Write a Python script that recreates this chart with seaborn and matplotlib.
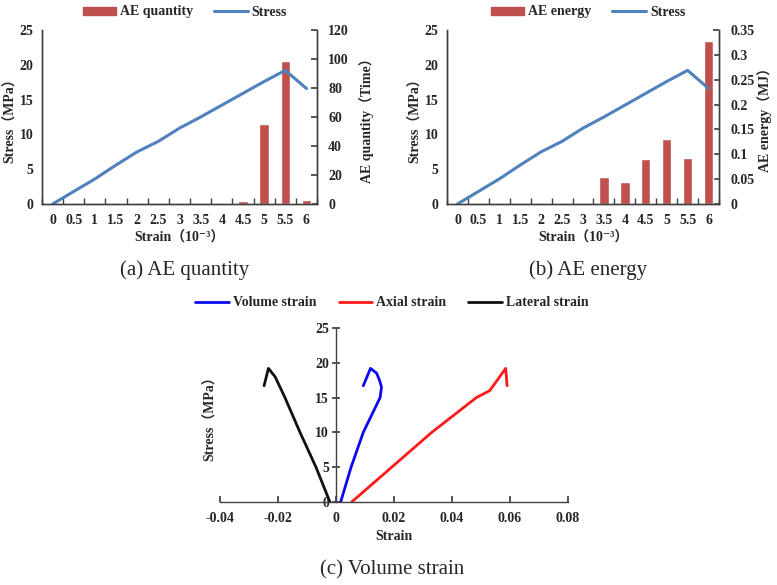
import matplotlib
matplotlib.use("Agg")
import matplotlib.pyplot as plt
from matplotlib.patches import Patch
from matplotlib.lines import Line2D
import numpy as np
import pandas as pd
import seaborn as sns

# --- data ---
strain_labels = ["0", "0.5", "1", "1.5", "2", "2.5", "3", "3.5", "4", "4.5", "5", "5.5", "6"]
stress = [0, 1.8, 3.6, 5.6, 7.5, 9.0, 10.9, 12.5, 14.2, 15.9, 17.6, 19.2, 16.6]
ae_quantity = [0, 0, 0, 0, 0, 0, 0, 0.5, 0.5, 2, 55, 98.5, 2.8]
ae_energy = [0, 0, 0, 0, 0, 0, 0, 0.055, 0.044, 0.090, 0.130, 0.093, 0.328]

lat_strain = [-0.0021, -0.0069, -0.0124, -0.0176, -0.0210, -0.0233, -0.0248]
lat_stress = [0, 5, 10, 15, 18, 19.2, 16.7]
vol_strain = [0.0016, 0.0052, 0.0094, 0.0152, 0.0157, 0.0150, 0.0140, 0.0119, 0.0094]
vol_stress = [0, 5, 10, 15, 16.5, 17.5, 18.5, 19.2, 16.7]
ax_strain = [0.0054, 0.0192, 0.0330, 0.0484, 0.0530, 0.0556, 0.0585, 0.0590]
ax_stress = [0, 5, 10, 15, 16, 17.5, 19.2, 16.7]

sns.set_theme(style="white")
SERIF = ["Liberation Serif", "DejaVu Serif", "Noto Sans CJK SC"]
plt.rcParams["font.family"] = SERIF
plt.rcParams["font.weight"] = "bold"
plt.rcParams["axes.labelweight"] = "bold"

BAR = "#C0504D"
LINE = "#4F81BD"
SPINE = "#404040"
FS = 10
CAP = 15

df = pd.DataFrame({"strain": strain_labels, "pos": np.arange(len(strain_labels)),
                   "stress": stress, "quantity": ae_quantity, "energy": ae_energy})

fig = plt.figure(figsize=(7.77, 5.85), dpi=100)


def dual_panel(rect, bar_col, right_lim, right_ticks, right_label, right_pad,
               bar_name, caption, cx):
    ax = fig.add_axes(rect)
    sns.barplot(data=df, x="strain", y=bar_col, color=BAR, width=0.45,
                saturation=1, ax=ax, order=strain_labels)
    ax2 = ax.twinx()
    sns.lineplot(data=df, x="pos", y="stress", color=LINE, lw=2.2, ax=ax2)
    # bars on the right axis, stress line on the left axis (drawn on top)
    ax.yaxis.tick_right()
    ax.yaxis.set_label_position("right")
    ax2.yaxis.tick_left()
    ax2.yaxis.set_label_position("left")
    ax.set_ylim(*right_lim)
    ax.set_yticks(right_ticks)
    ax.set_yticklabels([f"{v:g}" for v in right_ticks])
    ax.set_ylabel(right_label, fontsize=FS, fontweight="bold", rotation=90, labelpad=right_pad)
    ax2.set_ylim(0, 25)
    ax2.set_yticks(np.arange(0, 26, 5))
    ax2.set_ylabel("Stress（MPa）", fontsize=FS, fontweight="bold", labelpad=2)
    n = len(strain_labels)
    ax.set_xlim(-0.5, n - 0.5)
    ax2.set_xlim(-0.5, n - 0.5)
    ax.set_xticks(np.arange(n))
    ax.set_xticklabels(strain_labels)
    ax.set_xticks(np.arange(-0.5, n, 1), minor=True)
    ax.tick_params(axis="x", which="major", length=0, labelsize=FS, pad=7)
    ax.tick_params(axis="x", which="minor", direction="in", length=4, color=SPINE, bottom=True)
    ax.tick_params(axis="y", direction="in", length=4, color=SPINE, labelsize=FS,
                   right=True, pad=8)
    ax2.tick_params(axis="y", direction="out", length=0, labelsize=FS, pad=6)
    ax.set_xlabel("Strain（10⁻³）", fontsize=FS, fontweight="bold", labelpad=3)
    ax2.set_xlabel("")
    for a in (ax, ax2):
        a.spines["top"].set_visible(False)
        for s in ("left", "right", "bottom"):
            a.spines[s].set_color(SPINE)
            a.spines[s].set_linewidth(1)
        a.grid(False)
    for t in ax.get_xticklabels() + ax.get_yticklabels() + ax2.get_yticklabels():
        t.set_fontweight("bold")
    handles = [Patch(color=BAR), Line2D([], [], color=LINE, lw=2.2)]
    fig.legend(handles, [bar_name, "Stress"], loc="center",
               bbox_to_anchor=(cx, 1 - 12 / 585), ncol=2, frameon=False,
               prop={"size": FS, "weight": "bold", "family": SERIF},
               handlelength=2.4, handleheight=0.5, columnspacing=1.5, handletextpad=0.3)
    fig.text(cx, 1 - 270 / 585, caption, ha="center", va="center", fontsize=CAP,
             fontweight="normal", family=SERIF)
    return ax, ax2


dual_panel([42 / 777, 1 - 204 / 585, 275 / 777, 174 / 585], "quantity", (0, 120),
           np.arange(0, 121, 20), "AE quantity（Time）", 7,
           "AE quantity", "(a) AE quantity", 185 / 777)

dual_panel([447 / 777, 1 - 204 / 585, 272 / 777, 174 / 585], "energy", (0, 0.35),
           np.round(np.arange(0, 0.351, 0.05), 2), "AE energy（MJ）", 2,
           "AE energy", "(b) AE energy", 588 / 777)

# --- panel (c) ---
axc = fig.add_axes([220 / 777, 1 - 502 / 585, 348 / 777, 174 / 585])
curves = [("Volume strain", vol_strain, vol_stress, "#0A0AF0"),
          ("Axial strain", ax_strain, ax_stress, "#FF1A1A"),
          ("Lateral strain", lat_strain, lat_stress, "#111111")]
for name, xs, ys, col in curves:
    sns.lineplot(x=xs, y=ys, sort=False, estimator=None, color=col, lw=2, ax=axc, label=name)
axc.set_xlim(-0.04, 0.08)
axc.set_ylim(0, 25)
axc.set_xticks(np.arange(-0.04, 0.081, 0.02))
axc.set_xticklabels(["-0.04", "-0.02", "0", "0.02", "0.04", "0.06", "0.08"])
axc.set_yticks(np.arange(0, 26, 5))
axc.spines["left"].set_position(("data", 0))
axc.spines["bottom"].set_position(("data", 0))
axc.spines["top"].set_visible(False)
axc.spines["right"].set_visible(False)
for s in ("left", "bottom"):
    axc.spines[s].set_color(SPINE)
    axc.spines[s].set_linewidth(1)
axc.tick_params(axis="x", direction="in", length=4, color=SPINE, labelsize=FS, bottom=True, pad=7)
axc.tick_params(axis="y", direction="inout", length=6, color=SPINE, labelsize=FS, left=True, pad=2)
for t in axc.get_xticklabels() + axc.get_yticklabels():
    t.set_fontweight("bold")
axc.set_xlabel("Strain", fontsize=FS, fontweight="bold", labelpad=4)
axc.set_ylabel("Stress（MPa）", fontsize=FS, fontweight="bold")
axc.yaxis.set_label_coords(-0.01, 0.5)
axc.grid(False)
axc.legend_.remove()
hc, lc = axc.get_legend_handles_labels()
fig.legend(hc, lc, loc="center", bbox_to_anchor=(392 / 777, 1 - 303 / 585), ncol=3,
           frameon=False, prop={"size": FS, "weight": "bold", "family": SERIF},
           handlelength=2.4, columnspacing=1.6, handletextpad=0.3)
fig.text(392 / 777, 1 - 570 / 585, "(c) Volume strain", ha="center", va="center",
         fontsize=CAP, fontweight="normal", family=SERIF)

fig.savefig("out.png", dpi=100)
